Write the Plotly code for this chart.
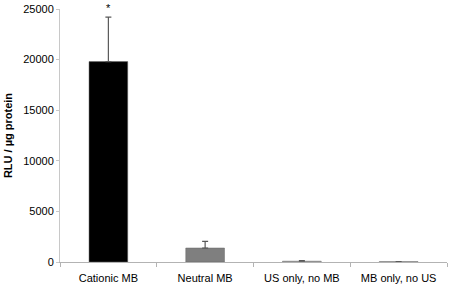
import plotly.graph_objects as go

categories = ["Cationic MB", "Neutral MB", "US only, no MB", "MB only, no US"]
values = [19800, 1380, 80, 40]
errors = [4400, 650, 60, 10]
bar_colors = ["#000000", "#7f7f7f", "#a6a6a6", "#bfbfbf"]
y_ticks = [0, 5000, 10000, 15000, 20000, 25000]

fig = go.Figure()
fig.add_trace(go.Bar(
    x=categories, y=values,
    marker=dict(color=bar_colors, line=dict(color="#666666", width=0.5)),
    error_y=dict(type="data", symmetric=False, array=errors,
                 arrayminus=[0] * len(errors),
                 color="#595959", thickness=1.2, width=3),
    width=0.4,
    cliponaxis=False,
))
fig.add_annotation(x=categories[0], y=values[0] + errors[0], text="*",
                   showarrow=False, yshift=9,
                   font=dict(size=11, color="#000000"))

fig.update_layout(
    width=450, height=286,
    margin=dict(l=60, r=3, t=9, b=24, autoexpand=False),
    paper_bgcolor="white", plot_bgcolor="white",
    font=dict(family="Liberation Sans, Arial", size=11, color="#000000"),
    showlegend=False,
)
fig.update_xaxes(
    showline=True, linecolor="#b3b3b3", linewidth=1,
    ticks="outside", tickson="boundaries", ticklen=4, tickcolor="#b3b3b3",
    showgrid=False, tickfont=dict(size=11), automargin=False,
    ticklabelstandoff=6,
)
fig.update_yaxes(
    range=[0, 25000], tickvals=y_ticks, ticktext=[str(v) for v in y_ticks],
    showline=True, linecolor="#c8c8c8", linewidth=1,
    ticks="outside", ticklen=3, tickcolor="#c8c8c8",
    showgrid=False, zeroline=False, automargin=False,
    title=dict(text="<b>RLU / µg protein</b>", font=dict(size=11), standoff=8),
)

fig.write_html("out.html",
               config={"displayModeBar": False},
               post_script="document.body.style.margin='0';document.body.style.overflow='hidden';")
